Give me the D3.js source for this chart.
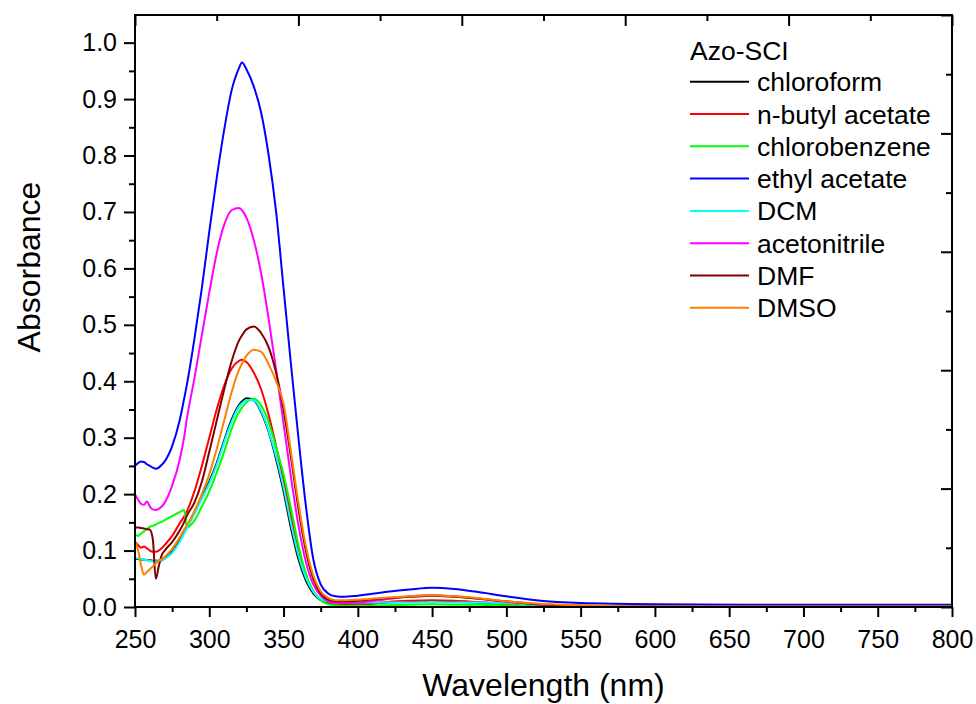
<!DOCTYPE html>
<html>
<head>
<meta charset="utf-8">
<script src="https://cdn.jsdelivr.net/npm/d3@7"></script>
<style>
  body { margin: 0; background: #fff; }
  svg text { font-family: "Liberation Sans", Arial, sans-serif; fill: #000; }
</style>
</head>
<body>
<svg id="chart" width="976" height="704"></svg>
<script>
// wavelength grid (nm), shared by all solvents
var wavelength = [250,252,254,256,258,260,262,264,266,268,270,275,280,283,285,290,295,300,305,310,315,320,322,325,330,335,340,345,350,355,360,365,370,375,380,385,390,400,420,435,450,465,480,500,520,550,600,700,800];

var chloroform = [.085,.085,.084,.084,.083,.083,.082,.082,.082,.083,.086,.098,.118,.132,.142,.168,.195,.222,.255,.295,.332,.358,.364,.370,.366,.345,.310,.262,.205,.140,.085,.047,.024,.012,.007,.005,.005,.005,.008,.009,.010,.009,.008,.005,.003,.001,0,0,0];
var nButylAcetate = [.116,.110,.105,.107,.104,.100,.098,.098,.100,.104,.110,.126,.148,.160,.170,.205,.250,.300,.350,.392,.422,.436,.438,.434,.415,.385,.340,.285,.225,.160,.100,.055,.028,.013,.006,.004,.003,.004,.009,.011,.012,.011,.009,.006,.003,.001,0,0,0];
var chlorobenzene = [.130,.126,.130,.134,.138,.142,.144,.146,.149,.151,.154,.161,.168,.172,.141,.153,.178,.205,.238,.275,.315,.345,.353,.363,.369,.357,.327,.283,.235,.175,.110,.060,.028,.012,.005,.003,.002,.002,.003,.004,.005,.004,.004,.003,.001,0,0,0,0];
var ethylAcetate = [.250,.255,.258,.257,.253,.250,.247,.245,.247,.252,.258,.285,.330,.368,.395,.475,.565,.665,.760,.845,.915,.955,.965,.953,.922,.875,.800,.700,.565,.430,.300,.180,.085,.040,.024,.019,.018,.020,.027,.031,.034,.032,.027,.019,.012,.007,.005,.004,.004];
var dcm = [.087,.086,.085,.084,.083,.082,.081,.081,.081,.082,.085,.096,.115,.130,.140,.165,.192,.219,.252,.292,.328,.355,.361,.367,.366,.347,.312,.267,.212,.148,.092,.052,.027,.015,.010,.008,.008,.008,.008,.008,.009,.008,.008,.007,.004,.002,.001,.001,.001];
var acetonitrile = [.200,.190,.183,.181,.187,.178,.173,.172,.174,.178,.185,.215,.260,.300,.335,.405,.482,.557,.627,.677,.703,.707,.703,.690,.650,.590,.510,.420,.325,.230,.145,.080,.040,.020,.010,.007,.007,.008,.014,.019,.021,.019,.015,.009,.005,.002,.001,.001,.001];
var dmf = [.141,.141,.140,.139,.138,.137,.120,.050,.072,.092,.100,.115,.135,.150,.162,.185,.222,.275,.330,.385,.435,.472,.481,.492,.497,.485,.460,.415,.350,.265,.175,.100,.050,.024,.013,.010,.010,.011,.016,.018,.020,.018,.015,.010,.005,.002,.001,.001,.001];
var dmso = [.116,.102,.075,.057,.062,.067,.072,.077,.081,.085,.089,.103,.123,.137,.145,.170,.200,.235,.280,.330,.380,.420,.431,.445,.456,.452,.430,.400,.360,.275,.185,.108,.056,.028,.016,.012,.012,.013,.017,.019,.021,.019,.016,.010,.006,.003,.001,.001,.001];

var seriesNames = ["chloroform", "n-butyl acetate", "chlorobenzene", "ethyl acetate", "DCM", "acetonitrile", "DMF", "DMSO"];
var seriesValues = [chloroform, nButylAcetate, chlorobenzene, ethylAcetate, dcm, acetonitrile, dmf, dmso];
var colors = ["#000000", "#ff0000", "#00ff00", "#0000ff", "#00ffff", "#ff00ff", "#800000", "#ff8000"];
var legendTitle = "Azo-SCI";

var xTicks = d3.range(250, 801, 50);
var xMinorTicks = d3.range(275, 800, 50);
var yTicks = d3.range(0, 1.01, 0.1);
var yMinorTicks = d3.range(0.05, 1.05, 0.1);

var margin = { top: 15, right: 24, bottom: 97, left: 135 };
var width = 976 - margin.left - margin.right;
var height = 704 - margin.top - margin.bottom;

var svg = d3.select("#chart");
var g = svg.append("g")
	.attr("transform", "translate(" + margin.left + "," + margin.top + ")");

var x = d3.scaleLinear().domain([250, 800]).range([0, width]);
var y = d3.scaleLinear().domain([0, 1.049]).range([height, 0]);
// opposite axes carry their own tick spacing
var xTop = d3.scaleLinear().domain([0, 10]).range([0, width]);
var yRight = d3.scaleLinear().domain([0, 10]).range([height, 0]);

function styleAxis(sel, size) {
	sel.select(".domain").remove();
	sel.selectAll("line").attr("stroke", "#000").attr("stroke-width", 2);
	sel.selectAll("text").attr("font-size", size).attr("font-family", "Liberation Sans, Arial, sans-serif");
}

// bottom axis
g.append("g")
	.attr("transform", "translate(0," + height + ")")
	.call(d3.axisBottom(x).tickValues(xTicks).tickSize(10).tickPadding(13))
	.call(styleAxis, 25);
g.append("g")
	.attr("transform", "translate(0," + height + ")")
	.call(d3.axisBottom(x).tickValues(xMinorTicks).tickSize(5).tickFormat(""))
	.call(styleAxis, 25);

// left axis
g.append("g")
	.call(d3.axisLeft(y).tickValues(yTicks).tickSize(11).tickPadding(7).tickFormat(d3.format(".1f")))
	.call(styleAxis, 25);
g.append("g")
	.call(d3.axisLeft(y).tickValues(yMinorTicks).tickSize(6).tickFormat(""))
	.call(styleAxis, 25);

// top and right: inward ticks, no labels
g.append("g")
	.call(d3.axisTop(xTop).tickValues(d3.range(0, 11, 2)).tickSize(-11).tickFormat(""))
	.call(styleAxis, 25);
g.append("g")
	.call(d3.axisTop(xTop).tickValues(d3.range(1, 10, 2)).tickSize(-6).tickFormat(""))
	.call(styleAxis, 25);
g.append("g")
	.attr("transform", "translate(" + width + ",0)")
	.call(d3.axisRight(yRight).tickValues(d3.range(0, 11, 2)).tickSize(-11).tickFormat(""))
	.call(styleAxis, 25);
g.append("g")
	.attr("transform", "translate(" + width + ",0)")
	.call(d3.axisRight(yRight).tickValues(d3.range(1, 10, 2)).tickSize(-6).tickFormat(""))
	.call(styleAxis, 25);

// curves
var line = d3.line()
	.x(function (d) { return x(d[0]); })
	.y(function (d) { return y(d[1]); })
	.curve(d3.curveMonotoneX);

seriesValues.forEach(function (vals, i) {
	var pts = wavelength.map(function (w, j) { return [w, vals[j]]; });
	g.append("path")
		.datum(pts)
		.attr("fill", "none")
		.attr("stroke", colors[i])
		.attr("stroke-width", 2)
		.attr("stroke-linejoin", "round")
		.attr("d", line);
});

// frame
g.append("rect")
	.attr("width", width)
	.attr("height", height)
	.attr("fill", "none")
	.attr("stroke", "#000")
	.attr("stroke-width", 2);

// axis titles
svg.append("text")
	.attr("x", margin.left + width / 2)
	.attr("y", 696)
	.attr("text-anchor", "middle")
	.attr("font-size", 32)
	.text("Wavelength (nm)");

svg.append("text")
	.attr("transform", "translate(40,267) rotate(-90)")
	.attr("text-anchor", "middle")
	.attr("font-size", 32)
	.text("Absorbance");

// legend
var legend = svg.append("g").attr("transform", "translate(690,0)");
legend.append("text")
	.attr("x", 0)
	.attr("y", 60)
	.attr("font-size", 26.5)
	.text(legendTitle);

seriesNames.forEach(function (name, i) {
	var ly = 81.7 + i * 32.3;
	legend.append("line")
		.attr("x1", 0).attr("x2", 59)
		.attr("y1", ly).attr("y2", ly)
		.attr("stroke", colors[i])
		.attr("stroke-width", 2);
	legend.append("text")
		.attr("x", 67)
		.attr("y", ly + 9.5)
		.attr("font-size", 26.5)
		.text(name);
});
</script>
</body>
</html>
